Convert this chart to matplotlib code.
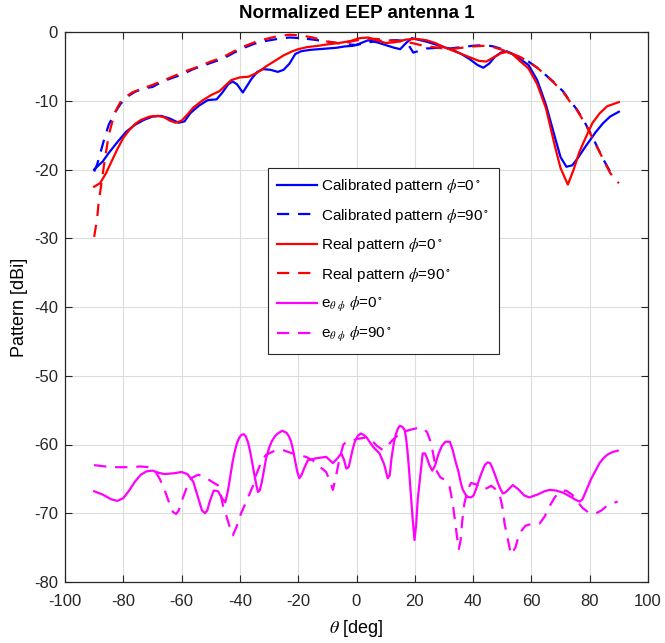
import matplotlib
matplotlib.use("Agg")
import matplotlib.pyplot as plt

plt.rcParams['font.family'] = ['Liberation Sans', 'DejaVu Sans']
plt.rcParams['mathtext.fontset'] = 'stix'
plt.rcParams['axes.unicode_minus'] = False

# ---------------- data ----------------
theta_cal0 = [-90, -89, -87, -85, -82, -79, -76, -73, -70, -67, -64, -61, -59, -57, -54, -51, -48, -46, -44,
              -42.5, -41, -39, -37.5, -36, -34, -32, -29.5, -27, -25, -23, -21, -19, -16, -13, -10, -7, -4,
              -1, 1, 4, 7, 10, 13, 15, 17, 19, 21, 24, 27, 30, 33, 36, 39, 41.5, 43.5, 45.5, 47.5, 49.5,
              51.5, 53.5, 56, 59, 62, 65, 68, 70, 72, 74, 76, 78, 80, 82, 84.5, 87, 90]
cal0 = [-20.0, -19.6, -18.8, -17.6, -16.0, -14.5, -13.5, -12.8, -12.3, -12.2, -12.6, -13.2, -13.0, -11.8,
        -10.7, -9.9, -9.8, -8.8, -7.6, -7.2, -7.6, -8.8, -7.8, -6.8, -5.8, -5.4, -5.5, -5.8, -5.5, -4.6,
        -3.2, -2.8, -2.6, -2.5, -2.4, -2.3, -2.1, -2.0, -1.7, -1.2, -1.5, -1.9, -2.3, -2.5, -1.6, -0.9,
        -1.1, -1.4, -1.8, -2.2, -2.6, -3.2, -4.0, -4.8, -5.2, -4.6, -3.6, -3.0, -2.8, -3.2, -3.9, -4.8,
        -7.0, -10.6, -15.2, -18.2, -19.6, -19.4, -18.3, -17.0, -15.8, -14.6, -13.3, -12.3, -11.6]

theta_cal90 = [-90, -89, -88, -86.5, -85, -83, -81, -79, -76, -73, -70, -67, -64, -60, -56, -52, -48, -45,
               -42, -38, -35, -31, -27, -23, -19, -15, -10, -5, 0, 3, 7, 11, 14, 16.5, 18, 19.5, 21, 24,
               28, 32, 36, 40, 44, 47, 50, 53, 56, 59, 62, 65, 68, 71, 73, 75.5, 78, 80, 82, 84.5, 87, 89.5]
cal90 = [-20.3, -19.3, -17.8, -15.5, -13.5, -11.8, -10.5, -9.5, -8.7, -8.2, -8.0, -7.3, -6.8, -6.2, -5.4,
         -4.8, -4.2, -3.7, -3.0, -2.2, -1.7, -1.3, -1.0, -0.8, -0.9, -1.1, -1.4, -1.7, -1.9, -1.6, -1.3,
         -1.2, -1.2, -1.3, -2.0, -3.0, -2.8, -2.4, -2.3, -2.4, -2.2, -2.0, -1.9, -2.1, -2.5, -3.1, -3.7,
         -4.3, -5.2, -6.3, -7.4, -8.7, -9.9, -11.2, -12.9, -14.5, -16.2, -18.4, -20.3, -20.8]

theta_real0 = [-90, -88, -86, -84, -82, -80, -78, -76, -74, -71, -68, -66, -64, -62, -60, -58, -56, -53, -50,
               -47, -45, -43, -40, -37, -34, -31, -28, -25, -22, -20, -17, -13, -10, -6, -2, 1, 4, 7, 10,
               13, 17, 20.5, 24, 27, 30, 33, 36, 39, 42, 44.5, 47, 49.5, 51.5, 53.5, 56, 59, 62, 65, 68,
               70, 72.5, 74.5, 76.5, 79, 81, 83.5, 86, 90]
real0 = [-22.5, -22.0, -20.6, -18.8, -17.0, -15.4, -14.3, -13.4, -12.8, -12.3, -12.2, -12.4, -12.9, -13.2,
         -12.9, -12.0, -11.0, -10.0, -9.2, -8.6, -7.8, -7.0, -6.6, -6.5, -5.9, -5.0, -4.2, -3.4, -2.8, -2.5,
         -2.2, -2.0, -1.8, -1.6, -1.3, -0.9, -0.8, -1.2, -1.6, -1.5, -1.1, -1.0, -1.2, -1.6, -2.2, -2.7,
         -3.2, -3.7, -4.2, -4.3, -3.7, -3.1, -2.9, -3.2, -4.2, -5.3, -7.6, -11.1, -16.5, -19.8, -22.2,
         -20.0, -17.4, -15.0, -13.2, -11.8, -10.8, -10.2]

theta_real90 = [-90, -89, -88.5, -87.5, -86.5, -85, -83, -81, -79, -77, -74, -70, -66, -62, -58, -54, -50, -46,
                -42, -38, -35, -31, -27, -23, -19, -15, -10, -5, -1, 3, 7, 11, 15, 19, 23, 28, 32, 36, 40,
                44, 47, 50, 53, 56, 59, 62, 65, 68, 71, 73, 75.5, 78, 80, 82, 84.5, 87, 90]
real90 = [-29.8, -27.2, -25.0, -22.0, -19.0, -15.0, -11.8, -10.2, -9.4, -8.8, -8.3, -7.7, -7.0, -6.3, -5.6,
          -5.0, -4.3, -3.7, -2.8, -2.0, -1.5, -1.0, -0.6, -0.4, -0.5, -0.8, -1.4, -1.7, -1.3, -1.0, -1.0,
          -1.2, -1.4, -1.6, -2.0, -2.3, -2.5, -2.3, -2.1, -2.0, -2.2, -2.6, -3.1, -3.6, -4.3, -5.2, -6.3,
          -7.5, -8.8, -10.0, -11.3, -13.0, -14.6, -16.3, -18.4, -20.5, -22.0]

theta_e0 = [-90, -87, -84, -82, -80, -78, -76, -74, -72, -70, -68, -66, -63, -60, -58, -56, -54.5, -53, -52,
            -51.2, -50.5, -49, -47.5, -46, -45, -44, -43.2, -42.5, -41.7, -41, -40.2, -39.5, -38.7, -38, -37.2,
            -36.5, -35.7, -35, -34.3, -33.8, -33.2, -32.5, -31.7, -31, -30, -29, -28, -27, -25.5, -24, -23.2,
            -22.5, -21.7, -21, -20.3, -19.6, -18.8, -18, -16.7, -13.8, -10.4, -8.1, -6.5, -5.2, -4.3, -3.5,
            -2.7, -2, -1.2, -0.5, 0.5, 1.5, 2.5, 3.5, 5.6, 7.9, 9.5, 10.7, 11.4, 12, 12.8, 13.5, 14.2, 14.8,
            15.7, 16.5, 17, 17.5, 18, 18.5, 19.2, 19.9, 20.5, 21, 21.6, 22.2, 22.7, 23.5, 24.2, 25, 26, 27,
            28, 29.3, 30.5, 32, 33, 34, 35, 35.8, 36.5, 37.3, 38, 39.3, 40.2, 41, 42, 43, 44, 45, 45.8, 46.5,
            47.5, 48.5, 49.4, 50.2, 51, 52, 53.6, 55.5, 57.5, 59.3, 62, 64.5, 66.2, 68.5, 70.8, 73, 75, 76.5,
            77.5, 78.5, 79.5, 80.5, 82, 83.4, 84.7, 86, 87.8, 89.6]
e0 = [-66.8, -67.3, -68.0, -68.2, -67.8, -66.7, -65.4, -64.4, -63.9, -63.8, -64.1, -64.3, -64.2, -64.0, -64.3,
      -65.4, -67.5, -69.6, -70.0, -69.6, -68.5, -66.7, -66.8, -67.9, -68.4, -66.5, -64.4, -62.5, -60.9, -59.8,
      -59.0, -58.6, -58.5, -58.8, -59.7, -61.0, -62.8, -64.5, -66.0, -66.9, -66.7, -65.5, -63.6, -62.0, -60.5,
      -59.5, -58.8, -58.4, -58.0, -58.3, -58.8, -59.5, -60.9, -62.5, -64.0, -64.9, -64.4, -63.5, -62.3, -62.0,
      -61.8, -62.7, -62.0, -61.3, -62.2, -63.5, -63.3, -62.0, -60.5, -59.5, -58.7, -58.4, -58.6, -59.0, -60.3,
      -61.3, -62.9, -64.9, -64.5, -62.0, -59.8, -58.5, -57.7, -57.3, -57.4, -57.9, -59.0, -61.0, -63.5, -66.5,
      -70.5, -73.9, -71.5, -68.0, -65.6, -63.2, -61.3, -61.3, -62.0, -63.0, -63.8, -63.0, -61.5, -60.2, -59.6,
      -59.6, -60.8, -62.5, -64.0, -65.6, -66.6, -67.2, -67.6, -67.7, -67.4, -66.5, -65.2, -64.0, -63.0, -62.6,
      -62.7, -63.3, -64.4, -65.6, -66.5, -67.1, -67.0, -66.6, -65.9, -66.5, -67.4, -67.7, -67.3, -66.8, -66.6,
      -66.7, -67.0, -67.5, -68.0, -68.3, -68.0, -67.0, -66.0, -65.0, -63.8, -62.7, -62.0, -61.5, -61.1, -60.9]

theta_e90 = [-90, -86, -82, -78, -74, -71, -69, -67.5, -66, -64.5, -63, -61.9, -61, -59.6, -58, -56.7, -54.4,
             -52, -50.4, -48.5, -47.6, -46.5, -45.5, -44.7, -43.5, -42.4, -41, -39.6, -37.5, -35.6, -34.5,
             -33.3, -32, -31, -28, -25.3, -22, -19.5, -17.3, -15, -12.7, -10.4, -9, -8.1, -7, -5.8, -4.5, -3,
             -1, 0, 3, 5, 7, 9, 11, 12.5, 14.5, 16.5, 19, 21, 22.7, 24.2, 25.6, 26.5, 27.3, 28.8, 30.2, 31.9,
             33, 33.6, 34.5, 35.1, 35.7, 36.3, 37, 38.2, 39.3, 41, 43.3, 45, 46.2, 48, 49.1, 50, 50.8, 52, 53,
             54.5, 55.9, 58, 60.5, 62.8, 64.5, 66.2, 68, 69.6, 71.9, 74, 75.4, 77.5, 79.9, 82.2, 84, 85.7,
             87.5, 89.6]
e90 = [-63.0, -63.2, -63.3, -63.3, -63.2, -63.3, -63.9, -65.0, -66.4, -68.2, -69.8, -70.1, -69.6, -67.8, -66.0,
       -64.9, -64.4, -64.7, -65.2, -65.7, -65.9, -67.5, -69.5, -70.3, -72.0, -73.2, -71.8, -70.0, -68.0, -66.1,
       -64.5, -63.2, -62.0, -61.5, -60.9, -60.8, -61.3, -61.6, -61.8, -62.3, -63.2, -64.0, -65.5, -66.6, -64.5,
       -62.0, -60.0, -59.5, -59.4, -59.2, -59.0, -59.3, -60.2, -60.8, -60.0, -59.3, -58.5, -58.1, -57.8, -57.6,
       -57.6, -58.2, -59.8, -61.8, -63.7, -64.8, -65.1, -66.1, -68.5, -70.5, -73.5, -75.2, -74.0, -71.0, -68.6,
       -66.5, -65.6, -65.8, -66.6, -66.3, -66.0, -66.6, -67.3, -69.0, -71.5, -74.0, -76.0, -75.0, -72.9, -71.8,
       -71.5, -71.5, -70.5, -69.0, -67.7, -66.9, -66.7, -67.3, -68.1, -69.2, -70.0, -70.0, -69.6, -69.0, -68.6,
       -68.3]

labels = [r'Calibrated pattern $\phi$=0$^\circ$',
          r'Calibrated pattern $\phi$=90$^\circ$',
          r'Real pattern $\phi$=0$^\circ$',
          r'Real pattern $\phi$=90$^\circ$',
          r'e$_{\theta\ \phi}$ $\phi$=0$^\circ$',
          r'e$_{\theta\ \phi}$ $\phi$=90$^\circ$']

xticks = list(range(-100, 101, 20))
yticks = list(range(-80, 1, 10))

# ---------------- plot ----------------
fig = plt.figure(figsize=(6.65, 6.43), dpi=100)
ax = fig.add_axes([65/665, 1-582/643, 583/665, 550/643])

lw = 1.6
dash = (5.5, 4)
ax.plot(theta_cal0, cal0, color=(0, 0, 1), lw=lw, label=labels[0])
ax.plot(theta_cal90, cal90, color=(0, 0, 1), lw=lw, dashes=dash, label=labels[1])
ax.plot(theta_real0, real0, color=(1, 0, 0), lw=lw, label=labels[2])
ax.plot(theta_real90, real90, color=(1, 0, 0), lw=lw, dashes=dash, label=labels[3])
ax.plot(theta_e0, e0, color=(1, 0, 1), lw=lw, label=labels[4])
ax.plot(theta_e90, e90, color=(1, 0, 1), lw=lw, dashes=dash, label=labels[5])

ax.set_xlim(-100, 100)
ax.set_ylim(-80, 0)
ax.set_xticks(xticks)
ax.set_yticks(yticks)
ax.grid(True, color='#dcdcdc', lw=0.8)
ax.set_axisbelow(True)
ax.tick_params(direction='in', top=True, right=True, length=5, width=0.8,
               labelsize=12, colors='#262626')
ax.tick_params(axis='x', pad=9)
ax.tick_params(axis='y', pad=5)
for s in ax.spines.values():
    s.set_color('#262626')
    s.set_linewidth(0.9)

ax.set_title('Normalized EEP antenna 1', fontsize=13.5, fontweight='bold', pad=10)
ax.set_xlabel(r'$\theta$ [deg]', fontsize=13, labelpad=6)
ax.set_ylabel('Pattern [dBi]', fontsize=13, labelpad=4)

leg = ax.legend(loc='upper left', bbox_to_anchor=((268-65)/583, (582-168)/550),
                borderaxespad=0, fontsize=11, handlelength=2.6, handletextpad=0.3,
                labelspacing=0.75, borderpad=0.6, fancybox=False, framealpha=1,
                edgecolor='#262626')
leg.get_frame().set_linewidth(0.8)

fig.savefig('out.png', dpi=100)
